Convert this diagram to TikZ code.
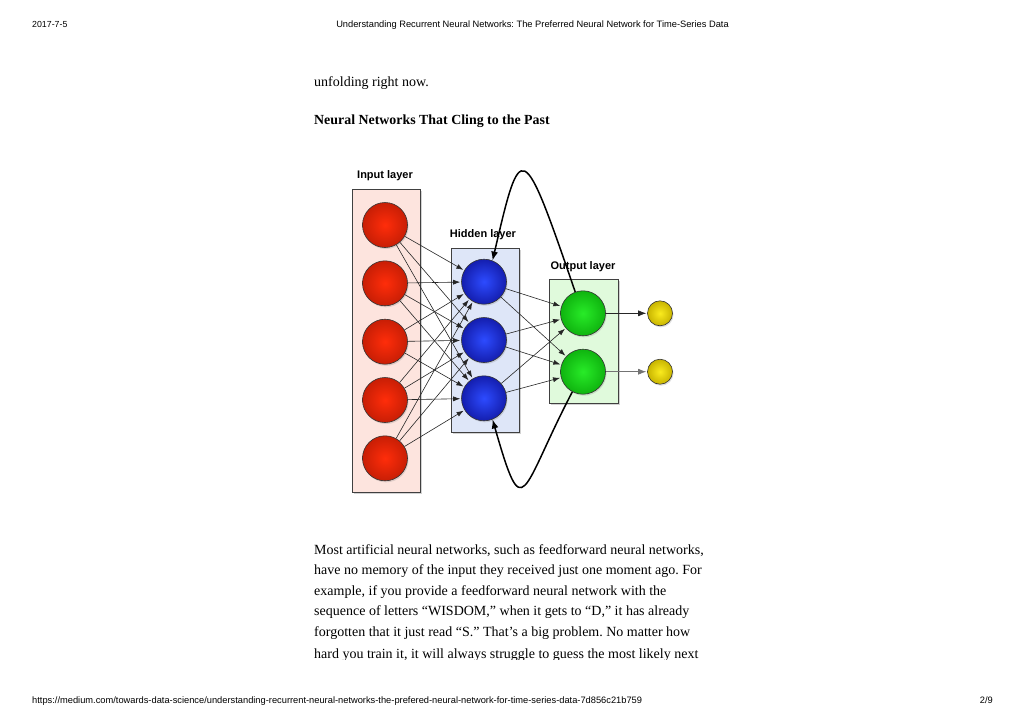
\documentclass[tikz,border=0pt]{standalone}
\usepackage{fontspec}
\setmainfont{Liberation Serif}
\newfontfamily\pagesans{Liberation Sans}
\usetikzlibrary{arrows.meta, shadows}
\frenchspacing

\definecolor{inred}{RGB}{255,45,10}
\definecolor{outred}{RGB}{200,30,5}
\definecolor{inblue}{RGB}{45,75,255}
\definecolor{outblue}{RGB}{20,30,175}
\definecolor{ingreen}{RGB}{40,235,40}
\definecolor{outgreen}{RGB}{15,180,15}
\definecolor{inyellow}{RGB}{250,235,30}
\definecolor{outyellow}{RGB}{200,180,0}
\definecolor{inputbg}{RGB}{253,228,222}
\definecolor{hiddenbg}{RGB}{222,230,248}
\definecolor{outputbg}{RGB}{224,250,220}

\tikzset{
  pagetext/.style={font=\pagesans\fontsize{9.3}{10}\selectfont, inner sep=0pt},
  bodytext/.style={font=\fontsize{14}{20}\selectfont, inner sep=0pt, anchor=base west},
  layerlabel/.style={font=\pagesans\bfseries\fontsize{11}{12}\selectfont, inner sep=0pt},
  layerbox/.style={draw=black!75, line width=0.8pt, rectangle, minimum width=68pt,
    drop shadow={shadow xshift=2pt, shadow yshift=-2pt, opacity=0.35}},
  neuron/.style={circle, draw=black!80, line width=0.6pt, minimum size=45pt, inner sep=0pt,
    drop shadow={shadow xshift=1pt, shadow yshift=-1.5pt, opacity=0.25}},
  link/.style={-{Latex[length=7pt, width=5pt]}, line width=0.6pt, black!85, shorten >=1pt},
  loopback/.style={-{Latex[length=9pt, width=7pt]}, line width=1.5pt}
}

\begin{document}
\begin{tikzpicture}[x=1pt, y=-1pt]

% Page area
\fill[white] (0,0) rectangle (1024,724);
\useasboundingbox (0,0) rectangle (1024,724);

% Header and footer
\node[pagetext, font=\pagesans\fontsize{8.8}{10}\selectfont, anchor=base west] (date) at (32,27.5) {2017-7-5};
\node[pagetext, anchor=base] (title) at (532.5,27.5) {Understanding Recurrent Neural Networks: The Preferred Neural Network for Time-Series Data};
\node[pagetext, anchor=base west] (url) at (32,703) {https://medium.com/towards-data-science/understanding-recurrent-neural-networks-the-prefered-neural-network-for-time-series-data-7d856c21b759};
\node[pagetext, anchor=base east] (page) at (993,703) {2/9};

% Text above the figure
\node[bodytext] (lead) at (314,86) {unfolding right now.};
\node[bodytext, font=\bfseries\fontsize{13.9}{20}\selectfont] (heading) at (314,124) {Neural Networks That Cling to the Past};

% Layer boxes
\node[layerbox, fill=inputbg, minimum height=303pt] (inbox) at (386,340.5) {};
\node[layerbox, fill=hiddenbg, minimum height=184pt] (hidbox) at (485,340) {};
\node[layerbox, fill=outputbg, minimum height=124pt, minimum width=69pt] (outbox) at (583.5,341) {};

\node[layerlabel] (inlabel) at (385,176) {Input layer};
\node[layerlabel] (hidlabel) at (483,235) {Hidden layer};
\node[layerlabel] (outlabel) at (583,267) {Output layer};

% Neurons
\foreach \n/\y in {1/225, 2/283.3, 3/341.7, 4/400, 5/458.3} {
    \node[neuron, inner color=inred, outer color=outred] (in\n) at (385,\y) {};
}
\foreach \n/\y in {1/281.7, 2/340, 3/398.3} {
    \node[neuron, inner color=inblue, outer color=outblue] (hid\n) at (484,\y) {};
}
\foreach \n/\y in {1/313.3, 2/371.7} {
    \node[neuron, inner color=ingreen, outer color=outgreen] (out\n) at (583,\y) {};
    \node[neuron, inner color=inyellow, outer color=outyellow, minimum size=25pt] (res\n) at (660,\y) {};
}

% Connections
\foreach \i in {1,...,5} {
    \foreach \j in {1,2,3} {
        \draw[link] (in\i) -- (hid\j);
    }
}
\foreach \j in {1,2,3} {
    \foreach \k in {1,2} {
        \draw[link] (hid\j) -- (out\k);
    }
}
\draw[link, -{Latex[length=8pt, width=6pt]}] (out1) -- (res1);
\draw[link, -{Latex[length=8pt, width=6pt]}, black!55] (out2) -- (res2);

% Recurrent loops
\draw[loopback] (out1.110) .. controls (522,137) and (521,138) .. (hid1.68);
\draw[loopback] (out2.242) .. controls (520,492) and (524,529) .. (hid3.292);

% Text below the figure
\foreach \n/\y/\txt in {1/554/{Most artificial neural networks, such as feedforward neural networks,},
                        2/574.5/{have no memory of the input they received just one moment ago. For},
                        3/595/{example, if you provide a feedforward neural network with the},
                        4/615.5/{sequence of letters “WISDOM,” when it gets to “D,” it has already},
                        5/636/{forgotten that it just read “S.” That’s a big problem. No matter how}} {
    \node[bodytext] (body\n) at (314,\y) {\txt};
}
\begin{scope}
    \clip (300,640) rectangle (740,659.5);
    \node[bodytext] (body6) at (314,658) {hard you train it, it will always struggle to guess the most likely next};
\end{scope}

\end{tikzpicture}
\end{document}
